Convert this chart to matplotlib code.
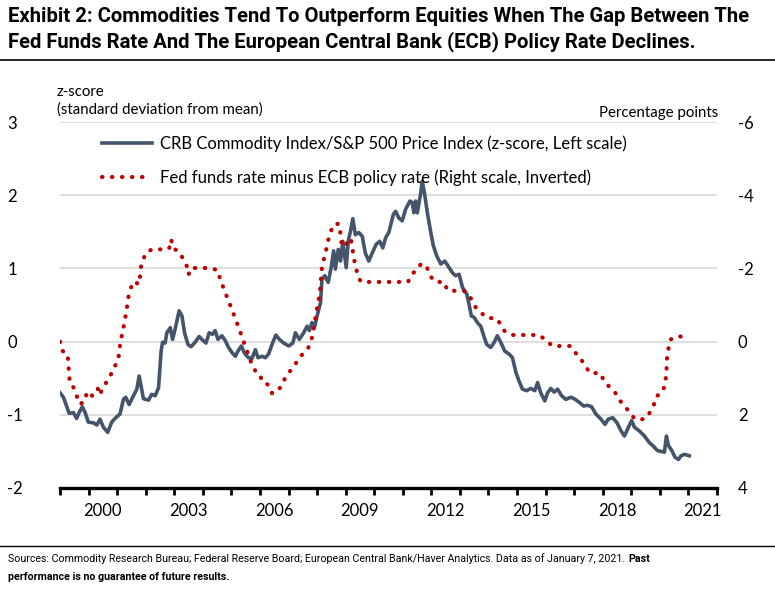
import matplotlib.pyplot as plt
from matplotlib.lines import Line2D

# CRB Commodity Index / S&P 500, z-score (left scale)
crb_year = [1999.00, 1999.12, 1999.23, 1999.32, 1999.47, 1999.58, 1999.67, 1999.78, 1999.88, 1999.99,
            2000.17, 2000.29, 2000.40, 2000.52, 2000.67, 2000.81, 2000.95, 2001.10, 2001.22, 2001.30,
            2001.42, 2001.57, 2001.69, 2001.77, 2001.84, 2001.92, 2002.10, 2002.21, 2002.33, 2002.45,
            2002.54, 2002.59, 2002.68, 2002.74, 2002.86, 2002.94, 2003.03, 2003.17, 2003.27, 2003.36,
            2003.48, 2003.59, 2003.73, 2003.87, 2003.97, 2004.11, 2004.22, 2004.34, 2004.43, 2004.53,
            2004.67, 2004.79, 2004.90, 2005.02, 2005.14, 2005.23, 2005.35, 2005.46, 2005.60, 2005.72,
            2005.84, 2005.93, 2006.07, 2006.19, 2006.30, 2006.45, 2006.56, 2006.68, 2006.83, 2007.01,
            2007.15, 2007.24, 2007.38, 2007.53, 2007.65, 2007.73, 2007.82, 2007.92, 2008.00, 2008.12,
            2008.17, 2008.27, 2008.39, 2008.50, 2008.58, 2008.64, 2008.74, 2008.82, 2008.90, 2009.02,
            2009.09, 2009.17, 2009.25, 2009.34, 2009.46, 2009.58, 2009.69, 2009.81, 2009.93, 2010.07,
            2010.19, 2010.30, 2010.40, 2010.51, 2010.67, 2010.75, 2010.86, 2010.98, 2011.10, 2011.25,
            2011.33, 2011.39, 2011.45, 2011.51, 2011.57, 2011.63, 2011.68, 2011.76, 2011.86, 2011.98,
            2012.07, 2012.19, 2012.33, 2012.47, 2012.62, 2012.74, 2012.85, 2012.97, 2013.09, 2013.24,
            2013.32, 2013.40, 2013.50, 2013.61, 2013.73, 2013.85, 2013.94, 2014.08, 2014.20, 2014.31,
            2014.43, 2014.57, 2014.72, 2014.84, 2014.96, 2015.07, 2015.19, 2015.34, 2015.48, 2015.62,
            2015.72, 2015.83, 2015.97, 2016.07, 2016.18, 2016.30, 2016.42, 2016.56, 2016.71, 2016.88,
            2017.00, 2017.18, 2017.33, 2017.47, 2017.61, 2017.76, 2017.94, 2018.08, 2018.19, 2018.35,
            2018.50, 2018.64, 2018.76, 2018.90, 2019.01, 2019.11, 2019.28, 2019.46, 2019.63, 2019.75,
            2019.92, 2020.16, 2020.23, 2020.30, 2020.42, 2020.53, 2020.65, 2020.74, 2020.86, 2021.03]
crb_z = [-0.70, -0.76, -0.88, -0.98, -0.97, -1.05, -0.97, -0.89, -0.97, -1.10,
         -1.11, -1.14, -1.06, -1.17, -1.24, -1.10, -1.04, -0.99, -0.79, -0.76,
         -0.86, -0.74, -0.65, -0.47, -0.61, -0.78, -0.80, -0.72, -0.74, -0.63,
         -0.13, -0.01, -0.02, 0.12, 0.19, 0.03, 0.17, 0.42, 0.35, 0.12,
         -0.04, -0.07, -0.01, 0.07, 0.03, -0.02, 0.12, 0.10, 0.15, 0.03,
         0.08, 0.01, -0.08, -0.15, -0.20, -0.13, -0.06, -0.16, -0.22, -0.23,
         -0.11, -0.22, -0.20, -0.22, -0.17, -0.01, 0.09, 0.03, -0.02, -0.06,
         -0.02, 0.12, 0.03, 0.12, 0.21, 0.15, 0.26, 0.21, 0.35, 0.53,
         0.85, 0.90, 0.81, 1.03, 1.24, 0.99, 1.26, 1.10, 1.37, 1.01,
         1.37, 1.51, 1.68, 1.46, 1.49, 1.44, 1.21, 1.10, 1.21, 1.33,
         1.37, 1.28, 1.42, 1.49, 1.74, 1.78, 1.69, 1.65, 1.81, 1.92,
         1.90, 1.76, 1.92, 1.76, 1.90, 2.03, 2.19, 2.03, 1.76, 1.49,
         1.31, 1.17, 1.06, 1.10, 1.01, 0.94, 0.90, 0.92, 0.74, 0.65,
         0.51, 0.35, 0.33, 0.26, 0.21, 0.06, -0.04, -0.08, -0.01, 0.08,
         -0.01, -0.13, -0.17, -0.22, -0.42, -0.54, -0.65, -0.67, -0.64, -0.67,
         -0.56, -0.70, -0.81, -0.70, -0.64, -0.69, -0.65, -0.74, -0.79, -0.76,
         -0.78, -0.83, -0.88, -0.87, -0.89, -0.99, -1.06, -1.13, -1.06, -1.04,
         -1.11, -1.22, -1.29, -1.17, -1.08, -1.17, -1.22, -1.29, -1.38, -1.42,
         -1.49, -1.51, -1.29, -1.42, -1.49, -1.58, -1.61, -1.56, -1.54, -1.56]

# Fed funds rate minus ECB policy rate, percentage points (right scale, inverted)
gap_year = [1999.00, 1999.08, 1999.27, 1999.29, 1999.32, 1999.34, 1999.47, 1999.58, 1999.70, 1999.88,
            1999.94, 2000.13, 2000.32, 2000.40, 2000.46, 2000.60, 2000.75, 2000.87, 2000.99, 2001.07,
            2001.10, 2001.16, 2001.22, 2001.28, 2001.34, 2001.37, 2001.45, 2001.54, 2001.63, 2001.75,
            2001.81, 2001.84, 2001.91, 2001.98, 2002.21, 2002.56, 2002.82, 2002.89, 2002.97, 2003.17,
            2003.32, 2003.44, 2003.50, 2003.59, 2003.94, 2004.26, 2004.52, 2004.61, 2004.73, 2004.84,
            2004.96, 2005.08, 2005.19, 2005.31, 2005.39, 2005.51, 2005.60, 2005.72, 2005.87, 2005.98,
            2006.11, 2006.21, 2006.30, 2006.42, 2006.60, 2006.75, 2006.87, 2007.01, 2007.18, 2007.33,
            2007.50, 2007.68, 2007.80, 2007.86, 2007.92, 2007.96, 2008.03, 2008.08, 2008.12, 2008.14,
            2008.17, 2008.24, 2008.32, 2008.39, 2008.47, 2008.58, 2008.76, 2008.82, 2008.85, 2008.99,
            2009.09, 2009.19, 2009.30, 2009.37, 2009.44, 2009.55, 2009.87, 2010.22, 2010.57, 2010.86,
            2011.18, 2011.33, 2011.48, 2011.66, 2011.86, 2011.98, 2012.15, 2012.44, 2012.56, 2012.89,
            2013.17, 2013.35, 2013.52, 2013.61, 2013.94, 2014.29, 2014.43, 2014.57, 2014.84, 2015.13,
            2015.48, 2015.77, 2016.01, 2016.24, 2016.53, 2016.86, 2017.06, 2017.24, 2017.38, 2017.56,
            2017.91, 2018.05, 2018.26, 2018.46, 2018.61, 2018.81, 2018.96, 2019.13, 2019.46, 2019.63,
            2019.78, 2019.86, 2020.10, 2020.18, 2020.22, 2020.24, 2020.25, 2020.30, 2020.36, 2020.57,
            2020.88]
gap_pp = [0.00, 0.25, 0.35, 0.62, 0.86, 1.12, 1.25, 1.48, 1.71, 1.62,
          1.37, 1.48, 1.28, 1.46, 1.32, 1.14, 0.95, 0.75, 0.57, 0.35,
          0.10, -0.15, -0.38, -0.64, -0.88, -1.14, -1.38, -1.61, -1.64, -1.56,
          -1.81, -2.06, -2.20, -2.40, -2.52, -2.52, -2.54, -2.79, -2.55, -2.45,
          -2.25, -2.06, -1.83, -2.01, -2.01, -2.01, -1.95, -1.70, -1.45, -1.23,
          -0.99, -0.75, -0.52, -0.27, -0.06, 0.15, 0.39, 0.62, 0.85, 0.89,
          1.12, 1.14, 1.19, 1.41, 1.37, 1.21, 1.01, 0.85, 0.68, 0.51,
          0.33, 0.19, -0.04, -0.26, -0.52, -0.77, -1.02, -1.26, -1.52, -1.77,
          -2.02, -2.26, -2.52, -2.77, -2.99, -3.20, -3.22, -2.95, -2.72, -2.58,
          -2.82, -2.77, -2.23, -1.99, -1.75, -1.63, -1.63, -1.63, -1.63, -1.63,
          -1.63, -1.84, -1.97, -2.14, -2.00, -1.77, -1.63, -1.63, -1.41, -1.38,
          -1.38, -1.23, -0.97, -0.88, -0.65, -0.63, -0.46, -0.28, -0.18, -0.18,
          -0.18, -0.18, -0.04, 0.12, 0.12, 0.12, 0.32, 0.48, 0.66, 0.86,
          0.86, 1.08, 1.26, 1.42, 1.62, 1.80, 1.96, 2.12, 2.12, 1.96,
          1.76, 1.51, 1.37, 1.16, 0.92, 0.66, 0.44, 0.19, -0.05, -0.14,
          -0.14]

year_labels = [2000, 2003, 2006, 2009, 2012, 2015, 2018, 2021]
left_ticks = [-2, -1, 0, 1, 2, 3]
right_ticks = [-6, -4, -2, 0, 2, 4]

slate = '#44546A'
red = '#C00000'
head_font = ['Roboto', 'DejaVu Sans']
plt.rcParams['font.family'] = ['Lato', 'DejaVu Sans']
plt.rcParams['axes.unicode_minus'] = False

W, H = 775, 592
fig = plt.figure(figsize=(W / 100, H / 100), dpi=100)
ax = fig.add_axes([60 / W, 1 - 488 / H, (717 - 60) / W, (488 - 122) / H])

ax.plot(crb_year, crb_z, color=slate, lw=2.6, solid_joinstyle='round', zorder=3)
ax.set_xlim(1999, 2022)
ax.set_ylim(-2, 3)
ax.set_yticks(left_ticks)
ax.yaxis.grid(True, color='#D9D9D9', lw=1.2)
ax.set_axisbelow(True)
for s in ['top', 'left', 'right']:
    ax.spines[s].set_visible(False)
ax.spines['bottom'].set_linewidth(2.4)
ax.spines['bottom'].set_zorder(5)

ax.set_xticks(range(1999, 2023))
ax.set_xticklabels([])
ax.set_xticks([y + 0.5 for y in year_labels], minor=True)
ax.set_xticklabels([str(y) for y in year_labels], minor=True)
ax.tick_params(axis='x', which='major', length=5, width=2, direction='out')
ax.tick_params(axis='x', which='minor', length=0, pad=11, labelsize=12)
ax.tick_params(axis='y', length=0, pad=38, labelsize=12)
for t in ax.get_yticklabels():
    t.set_horizontalalignment('left')

dots = (0.1, 2.3)
ax2 = ax.twinx()
ax2.plot(gap_year, gap_pp, color=red, lw=3.0, dashes=dots,
         dash_capstyle='round', zorder=4)
ax2.set_ylim(4, -6)
ax2.set_yticks(right_ticks)
ax2.tick_params(axis='y', length=0, pad=15, labelsize=12)
for s in ['top', 'left', 'right', 'bottom']:
    ax2.spines[s].set_visible(False)

handles = [Line2D([], [], color=slate, lw=2.6),
           Line2D([], [], color=red, lw=3.0, dashes=dots, dash_capstyle='round')]
labels = ['CRB Commodity Index/S&P 500 Price Index (z-score, Left scale)',
          'Fed funds rate minus ECB policy rate (Right scale, Inverted)']
ax2.legend(handles, labels, loc='upper left', bbox_to_anchor=(87 / W, 1 - 120 / H),
           bbox_transform=fig.transFigure, frameon=False, fontsize=12,
           handlelength=3.0, handletextpad=0.45, labelspacing=1.05)

fig.text(57 / W, 1 - 92 / H, 'z-score', fontsize=10.8, va='center')
fig.text(57 / W, 1 - 110 / H, '(standard deviation from mean)', fontsize=10.8, va='center')
fig.text(718 / W, 1 - 113 / H, 'Percentage points', fontsize=10.8, va='center', ha='right')

fig.text(8 / W, 1 - 16 / H, 'Exhibit 2: Commodities Tend To Outperform Equities When The Gap Between The',
         fontsize=14.6, fontweight='bold', family=head_font, va='center')
fig.text(8 / W, 1 - 42 / H, 'Fed Funds Rate And The European Central Bank (ECB) Policy Rate Declines.',
         fontsize=14.6, fontweight='bold', family=head_font, va='center')
fig.add_artist(Line2D([0, 1], [1 - 60 / H] * 2, color='black', lw=1.2))
fig.add_artist(Line2D([0, 1], [1 - 546 / H] * 2, color='black', lw=1.0))

src = fig.text(8 / W, 1 - 559 / H,
               'Sources: Commodity Research Bureau; Federal Reserve Board; European Central Bank/Haver Analytics. '
               'Data as of January 7, 2021.', fontsize=7.7, family=head_font, va='center')
fig.canvas.draw()
bb = src.get_window_extent()
fig.text((bb.x1 + 3) / W, 1 - 559 / H, 'Past', fontsize=7.7, family=head_font,
         fontweight='bold', va='center')
fig.text(8 / W, 1 - 577 / H, 'performance is no guarantee of future results.',
         fontsize=7.7, family=head_font, fontweight='bold', va='center')

fig.savefig('out.png', dpi=100)
